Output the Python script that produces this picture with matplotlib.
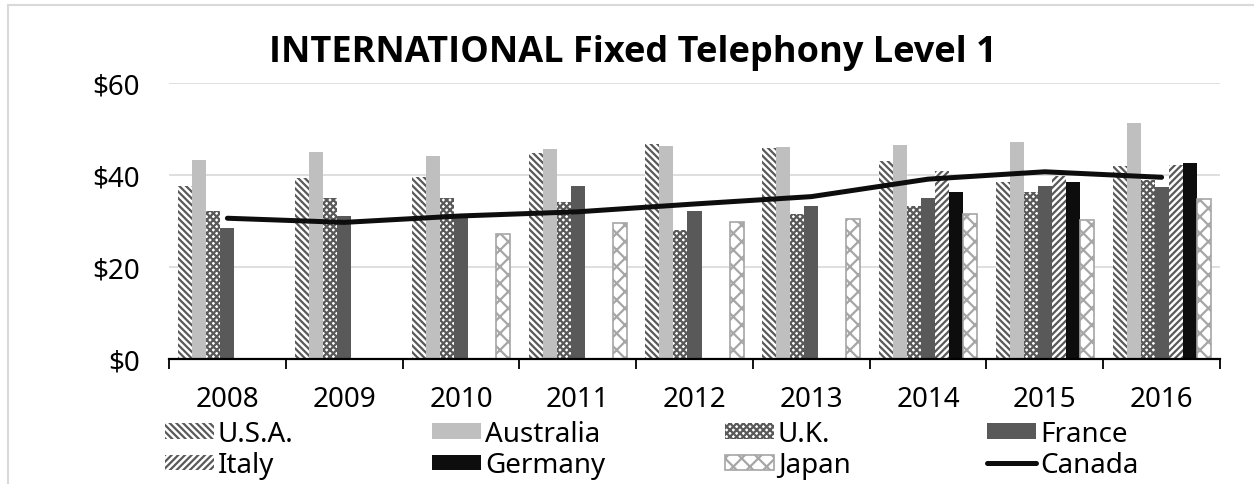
import numpy as np
import matplotlib

matplotlib.use("Agg")
import matplotlib.pyplot as plt
from matplotlib.patches import Rectangle
from matplotlib.lines import Line2D

plt.rcParams["font.family"] = ["Noto Sans", "DejaVu Sans"]
plt.rcParams["hatch.linewidth"] = 1.6

nan = np.nan
years = ["2008", "2009", "2010", "2011", "2012", "2013", "2014", "2015", "2016"]
usa = [37.7, 39.3, 39.6, 44.7, 46.7, 45.8, 43.0, 38.4, 41.9]
australia = [43.2, 45.0, 44.2, 45.7, 46.4, 46.1, 46.6, 47.2, 51.3]
uk = [32.1, 35.1, 35.1, 34.2, 28.0, 31.5, 33.2, 36.4, 39.0]
france = [28.5, 31.1, 30.8, 37.7, 32.2, 33.3, 34.9, 37.7, 37.5]
italy = [nan, nan, nan, nan, nan, nan, 40.8, 39.7, 42.2]
germany = [nan, nan, nan, nan, nan, nan, 36.4, 38.4, 42.7]
japan = [nan, nan, 27.2, 29.5, 29.8, 30.4, 31.6, 30.3, 34.8]
canada = [30.6, 29.7, 31.1, 32.0, 33.7, 35.3, 39.1, 40.7, 39.5]

W, H = 1254, 485
fig = plt.figure(figsize=(W / 100, H / 100), dpi=100)
ax = fig.add_axes([169 / W, 125 / H, (1220 - 169) / W, (360 - 84) / H])

x = np.arange(len(years))
bw = 0.12
styles = [
    ("U.S.A.", usa, dict(facecolor="white", edgecolor="#595959", hatch="\\" * 5, linewidth=0)),
    ("Australia", australia, dict(facecolor="#bfbfbf", edgecolor="#bfbfbf", linewidth=0)),
    ("U.K.", uk, dict(facecolor="white", edgecolor="#595959", hatch="x" * 5, linewidth=0)),
    ("France", france, dict(facecolor="#595959", edgecolor="#595959", linewidth=0)),
    ("Italy", italy, dict(facecolor="white", edgecolor="#595959", hatch="/" * 5, linewidth=0)),
    ("Germany", germany, dict(facecolor="#0d0d0d", edgecolor="#0d0d0d", linewidth=0)),
    ("Japan", japan, dict(facecolor="white", edgecolor="#a6a6a6", hatch="xx", linewidth=1.2)),
]
handles = {}
for k, (name, vals, st) in enumerate(styles):
    bars = ax.bar(x + (k - 3) * bw, vals, bw, label=name, zorder=2, **st)
    handles[name] = bars
ax.plot(x, canada, color="#0d0d0d", lw=3.6, solid_capstyle="round", zorder=3, label="Canada")
handles["Canada"] = Line2D([], [], color="#0d0d0d", lw=3.6, solid_capstyle="round")

ax.set_xlim(-0.5, len(years) - 0.5)
ax.set_ylim(0, 60)
ax.set_yticks([0, 20, 40, 60])
ax.set_yticklabels(["$0", "$20", "$40", "$60"])
ax.set_xticks(x)
ax.set_xticklabels(years)
ax.set_xticks(np.arange(-0.5, len(years)), minor=True)
ax.tick_params(axis="x", which="major", length=0, labelsize=20, pad=19)
ax.tick_params(axis="x", which="minor", length=7.5, width=1.3, color="black", direction="out")
ax.tick_params(axis="y", length=0, labelsize=20, pad=21)
ax.grid(axis="y", color="#d9d9d9", lw=1.2, zorder=0)
ax.set_axisbelow(True)
for s in ["left", "right", "top"]:
    ax.spines[s].set_visible(False)
ax.spines["bottom"].set_linewidth(1.6)
ax.spines["bottom"].set_zorder(4)

fig.text(0.505, (H - 62) / H, "INTERNATIONAL Fixed Telephony Level 1",
         ha="center", va="baseline", fontsize=26, fontweight="bold",
         family=["Open Sans", "DejaVu Sans"])

# chart frame (only left and top edges are inside the picture)
fig.add_artist(Rectangle((8 / W, -0.05), 1.1, (H - 6) / H + 0.05, transform=fig.transFigure,
                         facecolor="none", edgecolor="#d9d9d9", lw=1.5, clip_on=False))

columns = [(165, ["U.S.A.", "Italy"]), (432, ["Australia", "Germany"]),
           (725, ["U.K.", "Japan"]), (987, ["France", "Canada"])]
for xpos, names in columns:
    fig.legend([handles[n] for n in names], names, loc="upper left",
               bbox_to_anchor=(xpos / W, (H - 421) / H), frameon=False,
               fontsize=20, handlelength=1.75, handleheight=0.5,
               handletextpad=0.15, labelspacing=0.12, borderpad=0, borderaxespad=0)

fig.savefig("out.png", dpi=100)
